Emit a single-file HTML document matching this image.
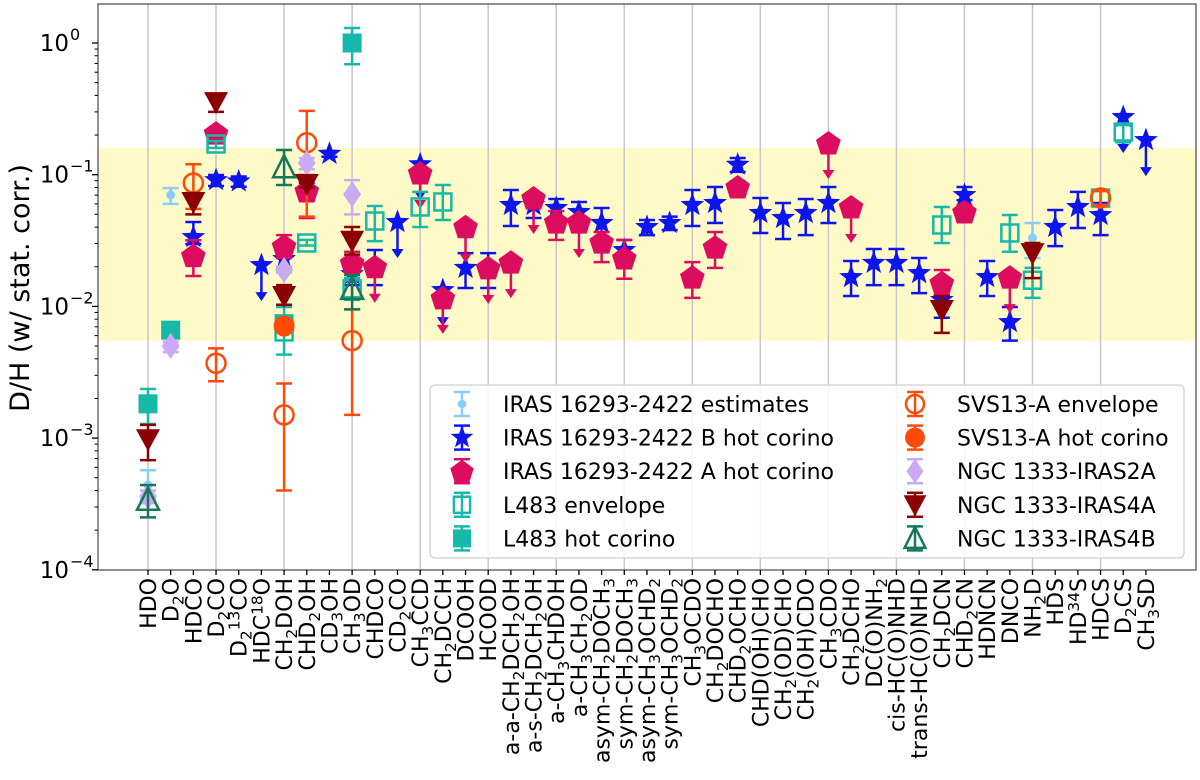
<!DOCTYPE html>
<html><head><meta charset="utf-8"><title>D/H ratios chart</title>
<style>
html,body{margin:0;padding:0;background:#fff;}
svg{display:block;font-family:"DejaVu Sans","Liberation Sans",sans-serif;}
</style></head>
<body>
<svg id="chart" width="1200" height="780" viewBox="0 0 1200 780" xmlns="http://www.w3.org/2000/svg">
<g id="bg"></g>
<g id="grid"></g>
<g id="marks"></g>
<g id="axes"></g>
<g id="legend"></g>
<text x="0" y="0" transform="translate(29,288) rotate(-90)" text-anchor="middle" font-size="27">D/H (w/ stat. corr.)</text>
</svg>
<script>
const categories = ["HDO","D_{2}O","HDCO","D_{2}CO","D_{2}^{13}CO","HDC^{18}O","CH_{2}DOH","CHD_{2}OH","CD_{3}OH","CH_{3}OD","CHDCO","CD_{2}CO","CH_{3}CCD","CH_{2}DCCH","DCOOH","HCOOD","a-a-CH_{2}DCH_{2}OH","a-s-CH_{2}DCH_{2}OH","a-CH_{3}CHDOH","a-CH_{3}CH_{2}OD","asym-CH_{2}DOCH_{3}","sym-CH_{2}DOCH_{3}","asym-CH_{3}OCHD_{2}","sym-CH_{3}OCHD_{2}","CH_{3}OCDO","CH_{2}DOCHO","CHD_{2}OCHO","CHD(OH)CHO","CH_{2}(OD)CHO","CH_{2}(OH)CDO","CH_{3}CDO","CH_{2}DCHO","DC(O)NH_{2}","cis-HC(O)NHD","trans-HC(O)NHD","CH_{2}DCN","CHD_{2}CN","HDNCN","DNCO","NH_{2}D","HDS","HD^{34}S","HDCS","D_{2}CS","CH_{3}SD"];
const yTickExps = [0,-1,-2,-3,-4];
const bandRange = [0.0055, 0.16];

const estIdx = [0,1,39];
const estVal = [0.00044,0.0701,0.033];
const estLo  = [0.00034,0.060,0.0233];
const estHi  = [0.00057,0.079,0.043];

const bIdx = [2,3,4,5,6,7,8,9,10,11,12,13,14,15,16,17,18,19,20,21,22,23,24,25,26,27,28,29,30,31,32,33,34,35,36,37,38,40,41,42,43,44];
const bVal = [0.0336,0.091,0.089,0.0206,0.0229,0.075,0.144,0.0176,0.020,0.0437,0.12,0.0133,0.0196,0.0196,0.0589,0.0589,0.0559,0.0521,0.043,0.0268,0.0401,0.043,0.0589,0.061,0.119,0.0512,0.0469,0.0512,0.061,0.0167,0.0214,0.0214,0.0179,0.0112,0.0701,0.0167,0.0076,0.0401,0.0569,0.0494,0.274,0.183];
const bLo  = [0.0298,0.082,0.081,0,0.0196,0.0665,0.137,0.0145,0.0145,0,0,0,0.0138,0.0138,0.0408,0.0469,0.0469,0.0437,0.0319,0.0217,0.0348,0.038,0.0408,0.043,0.105,0.0361,0.0325,0.0348,0.043,0.012,0.0145,0.0145,0.0126,0.0082,0.0641,0.012,0.0055,0.0287,0.0394,0.0348,0,0];
const bHi  = [0.0437,0.0995,0.097,0,0.0268,0.0865,0.151,0.0217,0.0268,0,0,0,0.0254,0.0254,0.0765,0.072,0.0654,0.0621,0.0559,0.0319,0.0453,0.048,0.0765,0.0807,0.134,0.0665,0.061,0.0654,0.0807,0.0221,0.0273,0.0273,0.0233,0.0122,0.0807,0.0221,0.0099,0.054,0.074,0.061,0,0];
const bUl  = [0,0,0,1,0,0,0,0,0,1,1,1,0,0,0,0,0,0,0,0,0,0,0,0,0,0,0,0,0,0,0,0,0,0,0,0,0,0,0,0,1,1];

const aIdx = [2,3,6,7,9,10,12,13,14,15,16,17,18,19,20,21,24,25,26,30,31,35,36,38];
const aVal = [0.0243,0.207,0.0287,0.0752,0.0214,0.020,0.103,0.0116,0.0403,0.0196,0.0217,0.0665,0.0437,0.0437,0.0308,0.0233,0.0167,0.0282,0.0807,0.174,0.0569,0.0151,0.0521,0.0167];
const aLo  = [0.017,0.183,0.0233,0.0469,0.0183,0,0,0,0,0,0,0,0.032,0,0.0217,0.0162,0.0116,0.0196,0.073,0,0,0.0122,0.0469,0];
const aHi  = [0.0318,0.226,0.0348,0.0995,0.026,0,0,0,0,0,0,0,0.053,0,0.0367,0.0319,0.0217,0.0367,0.089,0,0,0.0189,0.0589,0];
const aUl  = [0,0,0,0,0,1,1,1,1,1,1,1,0,1,0,0,0,0,0,1,1,0,0,1];

const envIdx = [3,6,7,9,10,12,13,35,38,39,42,43];
const envVal = [0.171,0.0064,0.0303,0.0136,0.0445,0.0569,0.0621,0.0415,0.0361,0.0158,0.0665,0.211];
const envLo  = [0.16,0.0043,0.029,0.0112,0.0313,0.0401,0.0453,0.0303,0.026,0.0116,0.0589,0.176];
const envHi  = [0.18,0.0099,0.032,0.0164,0.0578,0.074,0.0835,0.0569,0.0494,0.0196,0.0752,0.238];

const hcIdx = [0,1,6,9];
const hcVal = [0.00182,0.0066,0.0074,1.0];
const hcLo  = [0.00128,0.0064,0.0070,0.69];
const hcHi  = [0.00236,0.0068,0.0080,1.3];

const svsEnvIdx = [2,3,6,7,9,42];
const svsEnvVal = [0.0865,0.0037,0.0015,0.175,0.0055,0.0665];
const svsEnvLo  = [0.055,0.0027,0.0004,0.048,0.0015,0.0589];
const svsEnvHi  = [0.12,0.0048,0.0026,0.305,0.0095,0.0752];

const svsHcIdx = [6];
const svsHcVal = [0.0071];
const svsHcLo  = [0.0067];
const svsHcHi  = [0.0075];

const i2aIdx = [0,1,6,7,9];
const i2aVal = [0.00036,0.005,0.0189,0.123,0.071];
const i2aLo  = [0.00032,0.0045,0.018,0.11,0.05];
const i2aHi  = [0.0004,0.0054,0.02,0.134,0.091];

const i4aIdx = [0,2,3,6,7,9,35,39];
const i4aVal = [0.00098,0.062,0.356,0.012,0.085,0.0315,0.0094,0.0254];
const i4aLo  = [0.00068,0.05,0.30,0.0103,0.08,0.0247,0.0063,0.0164];
const i4aHi  = [0.00126,0.0725,0.40,0.0145,0.091,0.0401,0.012,0.0303];

const i4bIdx = [0,6,9];
const i4bVal = [0.00034,0.114,0.0136];
const i4bLo  = [0.00025,0.0835,0.0095];
const i4bHi  = [0.00044,0.154,0.0173];

const NS = "http://www.w3.org/2000/svg";
const X0 = 98, X1 = 1196, Y0 = 4, Y1 = 570;
function xPix(i){ return 148 + i*22.68; }
function yPix(v){ return 43 - 131.7*Math.log10(v); }
function mk(tag, attrs, parent){
  const e = document.createElementNS(NS, tag);
  for (const k in attrs) e.setAttribute(k, attrs[k]);
  if (parent) parent.appendChild(e);
  return e;
}
const bg = document.getElementById('bg'), grid = document.getElementById('grid'),
      marks = document.getElementById('marks'), axes = document.getElementById('axes'),
      legend = document.getElementById('legend');

const band = mk('rect', {x:X0, y:yPix(bandRange[1]), width:X1-X0, height:yPix(bandRange[0])-yPix(bandRange[1]), fill:'#fffac8'}, bg);



for (let i = 0; i < categories.length; i += 3) {
  const g = mk('line', {x1:xPix(i), x2:xPix(i), y1:Y0, y2:Y1, stroke:'#c8c8c8', 'stroke-width':1.5}, grid);
  
  
}

function shape(kind, cx, cy, color, parent, scale){
  const s = scale || 1;
  let e;
  if (kind === 'star') {
    let p = [];
    for (let k = 0; k < 10; k++) {
      const r = (k % 2 ? 5.2 : 12.5) * s, a = -Math.PI/2 + k*Math.PI/5;
      p.push((cx + r*Math.cos(a)).toFixed(1) + ',' + (cy + r*Math.sin(a)).toFixed(1));
    }
    e = mk('polygon', {points:p.join(' '), fill:color}, parent);
  } else if (kind === 'pent') {
    let p = [];
    for (let k = 0; k < 5; k++) {
      const r = 13*s, a = -Math.PI/2 + k*2*Math.PI/5;
      p.push((cx + r*Math.cos(a)).toFixed(1) + ',' + (cy + 1 + r*Math.sin(a)).toFixed(1));
    }
    e = mk('polygon', {points:p.join(' '), fill:color}, parent);
  } else if (kind === 'sqOpen') {
    e = mk('rect', {x:cx-8.5*s, y:cy-8.5*s, width:17*s, height:17*s, fill:'none', stroke:color, 'stroke-width':2.5}, parent);
  } else if (kind === 'sqFill') {
    e = mk('rect', {x:cx-9.5*s, y:cy-9.5*s, width:19*s, height:19*s, fill:color}, parent);
  } else if (kind === 'circOpen') {
    e = mk('circle', {cx:cx, cy:cy, r:9.5*s, fill:'none', stroke:color, 'stroke-width':2.5}, parent);
  } else if (kind === 'circFill') {
    e = mk('circle', {cx:cx, cy:cy, r:10.5*s, fill:color}, parent);
  } else if (kind === 'dot') {
    e = mk('circle', {cx:cx, cy:cy, r:4.5*s, fill:color}, parent);
  } else if (kind === 'diam') {
    e = mk('polygon', {points:`${cx},${cy-13*s} ${cx+9*s},${cy} ${cx},${cy+13*s} ${cx-9*s},${cy}`, fill:color}, parent);
  } else if (kind === 'triDown') {
    e = mk('polygon', {points:`${cx-12*s},${cy-10*s} ${cx+12*s},${cy-10*s} ${cx},${cy+12*s}`, fill:color}, parent);
  } else if (kind === 'triUpOpen') {
    e = mk('polygon', {points:`${cx-11*s},${cy+10*s} ${cx+11*s},${cy+10*s} ${cx},${cy-12*s}`, fill:'none', stroke:color, 'stroke-width':2.5}, parent);
  }
  return e;
}
function errbar(cx, y1, y2, color, parent){
  mk('line', {x1:cx, x2:cx, y1:y1, y2:y2, stroke:color, 'stroke-width':2.5}, parent);
  mk('line', {x1:cx-8, x2:cx+8, y1:y1, y2:y1, stroke:color, 'stroke-width':2.5}, parent);
  mk('line', {x1:cx-8, x2:cx+8, y1:y2, y2:y2, stroke:color, 'stroke-width':2.5}, parent);
}
function ularrow(cx, cy, color, parent){
  mk('line', {x1:cx, x2:cx, y1:cy, y2:cy+28, stroke:color, 'stroke-width':2.5}, parent);
  mk('polygon', {points:`${cx-6},${cy+27} ${cx+6},${cy+27} ${cx},${cy+36}`, fill:color}, parent);
}

const series = [
  {name:'iras16293-estimates', kind:'dot', color:'#87cefa', idx:estIdx, val:estVal, lo:estLo, hi:estHi, ul:null, label:'IRAS 16293-2422 estimates'},
  {name:'iras16293-b-hot-corino', kind:'star', color:'#0c14f0', idx:bIdx, val:bVal, lo:bLo, hi:bHi, ul:bUl, label:'IRAS 16293-2422 B hot corino'},
  {name:'iras16293-a-hot-corino', kind:'pent', color:'#dc0c5e', idx:aIdx, val:aVal, lo:aLo, hi:aHi, ul:aUl, label:'IRAS 16293-2422 A hot corino'},
  {name:'l483-envelope', kind:'sqOpen', color:'#16b9a9', idx:envIdx, val:envVal, lo:envLo, hi:envHi, ul:null, label:'L483 envelope'},
  {name:'l483-hot-corino', kind:'sqFill', color:'#16b9a9', idx:hcIdx, val:hcVal, lo:hcLo, hi:hcHi, ul:null, label:'L483 hot corino'},
  {name:'svs13a-envelope', kind:'circOpen', color:'#ff4a0a', idx:svsEnvIdx, val:svsEnvVal, lo:svsEnvLo, hi:svsEnvHi, ul:null, label:'SVS13-A envelope'},
  {name:'svs13a-hot-corino', kind:'circFill', color:'#ff4a0a', idx:svsHcIdx, val:svsHcVal, lo:svsHcLo, hi:svsHcHi, ul:null, label:'SVS13-A hot corino'},
  {name:'ngc1333-iras2a', kind:'diam', color:'#c9aaf5', idx:i2aIdx, val:i2aVal, lo:i2aLo, hi:i2aHi, ul:null, label:'NGC 1333-IRAS2A'},
  {name:'ngc1333-iras4a', kind:'triDown', color:'#8b0000', idx:i4aIdx, val:i4aVal, lo:i4aLo, hi:i4aHi, ul:null, label:'NGC 1333-IRAS4A'},
  {name:'ngc1333-iras4b', kind:'triUpOpen', color:'#16785a', idx:i4bIdx, val:i4bVal, lo:i4bLo, hi:i4bHi, ul:null, label:'NGC 1333-IRAS4B'}
];

series.forEach(s => {
  const g = mk('g', {}, marks);
  
  
  s.idx.forEach((ci, k) => {
    const cx = xPix(ci), cy = yPix(s.val[k]);
    const pg = mk('g', {}, g);
    
    
    if (s.ul && s.ul[k]) {
      ularrow(cx, cy, s.color, pg);
    } else if (s.lo[k] > 0) {
      errbar(cx, yPix(s.hi[k]), yPix(s.lo[k]), s.color, pg);
    }
    shape(s.kind, cx, cy, s.color, pg);
  });
});

mk('rect', {x:X0, y:Y0, width:X1-X0, height:Y1-Y0, fill:'none', stroke:'#555', 'stroke-width':1.3}, axes);

yTickExps.forEach(e => {
  const y = yPix(Math.pow(10, e));
  mk('line', {x1:X0-6, x2:X0, y1:y, y2:y, stroke:'#000', 'stroke-width':1.3}, axes);
  const t = mk('text', {x:69, y:y+8, 'text-anchor':'end', 'font-size':23}, axes);
  
  
  t.textContent = '10';
  const sup = mk('text', {x:70, y:y-3, 'text-anchor':'start', 'font-size':16}, axes);
  
  
  sup.textContent = e === 0 ? '0' : '\u2212' + (-e);
  for (let m = 2; m <= 9; m++) {
    const ym = yPix(m*Math.pow(10, e));
    if (ym > Y0 && ym < Y1) mk('line', {x1:X0-3.5, x2:X0, y1:ym, y2:ym, stroke:'#000', 'stroke-width':1}, axes);
  }
});

function addRichText(t, str, base){
  const re = /([_^])\{([^}]*)\}|([^_^]+)/g;
  let m, shift = 0;
  while ((m = re.exec(str)) !== null) {
    const ts = document.createElementNS(NS, 'tspan');
    if (m[3] !== undefined) {
      ts.textContent = m[3];
      ts.setAttribute('dy', -shift); shift = 0;
      ts.setAttribute('font-size', base);
    } else {
      const d = m[1] === '_' ? 5 : -7;
      ts.textContent = m[2];
      ts.setAttribute('dy', d - shift); shift = d;
      ts.setAttribute('font-size', base*0.7);
    }
    t.appendChild(ts);
  }
}
categories.forEach((c, i) => {
  const x = xPix(i);
  mk('line', {x1:x, x2:x, y1:Y1, y2:Y1+5, stroke:'#000', 'stroke-width':1.3}, axes);
  const t = mk('text', {transform:`translate(${x+8},${Y1+8}) rotate(-90)`, 'text-anchor':'end', 'font-size':22}, axes);
  
  
  addRichText(t, c, 22);
});

const lb = mk('rect', {x:430, y:385, width:754, height:173, rx:5, fill:'#fff', 'fill-opacity':0.85, stroke:'#d0d0d0', 'stroke-width':1.3}, legend);


series.forEach((s, k) => {
  const col = k < 5 ? 0 : 1, row = k % 5;
  const mx = col === 0 ? 462 : 915, my = 404 + row*33.6;
  const g = mk('g', {}, legend);
  
  
  errbar(mx, my-12, my+12, s.color, g);
  shape(s.kind, mx, my, s.color, g, 0.95);
  const t = mk('text', {x: mx+(col===0?41:42), y: my+8, 'font-size':22}, g);
  t.textContent = s.label;
});
</script>
</body></html>
